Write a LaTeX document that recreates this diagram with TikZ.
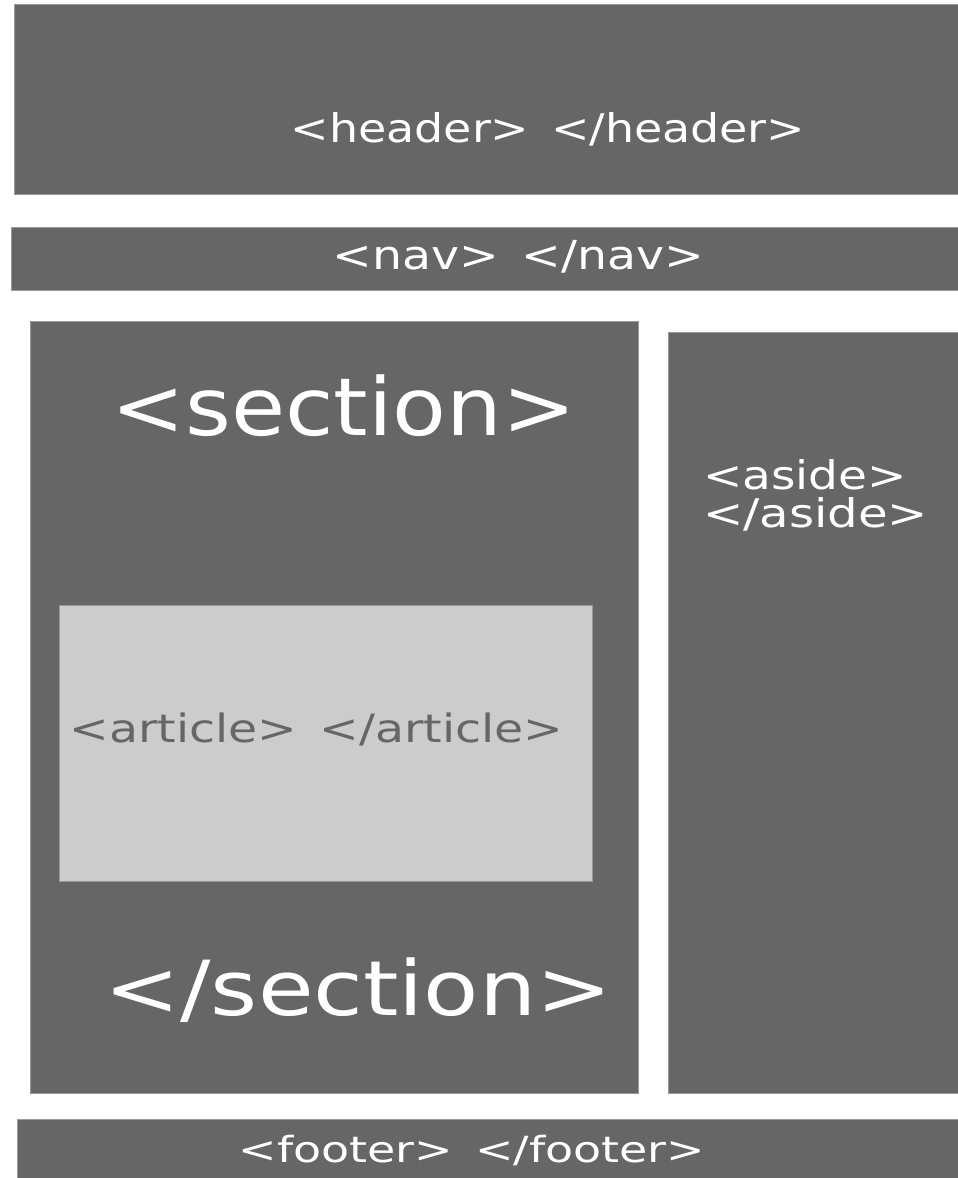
\documentclass[tikz,border=0pt]{standalone}
\usepackage{fontspec}
\usepackage{graphicx}
\newfontfamily\dv{DejaVu Sans}
\definecolor{boxdark}{HTML}{666666}
\definecolor{boxlight}{HTML}{CCCCCC}
\definecolor{boxedge}{HTML}{999999}
\tikzset{
  darkbox/.style={fill=boxdark, draw=boxedge, line width=0.8pt},
  lightbox/.style={fill=boxlight, draw=boxedge, line width=0.8pt},
  tag/.style={inner sep=0pt, outer sep=0pt, text=white},
  darktag/.style={inner sep=0pt, outer sep=0pt, text=boxdark},
}
\newcommand{\tagtxt}[3]{\scalebox{#2}[1]{\dv\fontsize{#1}{#1}\selectfont #3}}
\newcommand{\gap}{\ \hspace{6pt}}
\begin{document}
\begin{tikzpicture}[x=1pt,y=-1pt]
\useasboundingbox (0,0) rectangle (958,1178);
\fill[white] (0,0) rectangle (958,1178);
% boxes
\draw[darkbox] (14,4) rectangle (960,194);
\draw[darkbox] (11,227) rectangle (960,290);
\draw[darkbox] (30,321) rectangle (638,1093);
\draw[darkbox] (668,332) rectangle (960,1093);
\draw[lightbox] (59.5,605) rectangle (592,881);
\draw[darkbox] (17,1119) rectangle (960,1180);
% labels
\node[tag, anchor=base] (header) at (548,142) {\tagtxt{39.5}{1.163}{<header>\gap</header>}};
\node[tag, anchor=base] (nav) at (518.5,269.3) {\tagtxt{40}{1.185}{<nav>\gap</nav>}};
\node[tag, anchor=base] (secopen) at (344,435) {\tagtxt{80}{1.1}{<section>}};
\node[tag, anchor=base] (secclose) at (358.5,1015) {\tagtxt{76}{1.19}{</section>}};
\node[tag, anchor=base west] (asideopen) at (703,489.3) {\tagtxt{39.5}{1.19}{<aside>}};
\node[tag, anchor=base west] (asideclose) at (703,527.7) {\tagtxt{39.5}{1.22}{</aside>}};
\node[darktag, anchor=base] (article) at (316.5,742.7) {\tagtxt{39}{1.214}{<article>\gap</article>}};
\node[tag, anchor=base] (footer) at (472,1162.3) {\tagtxt{36}{1.276}{<footer>\gap</footer>}};
\end{tikzpicture}
\end{document}
